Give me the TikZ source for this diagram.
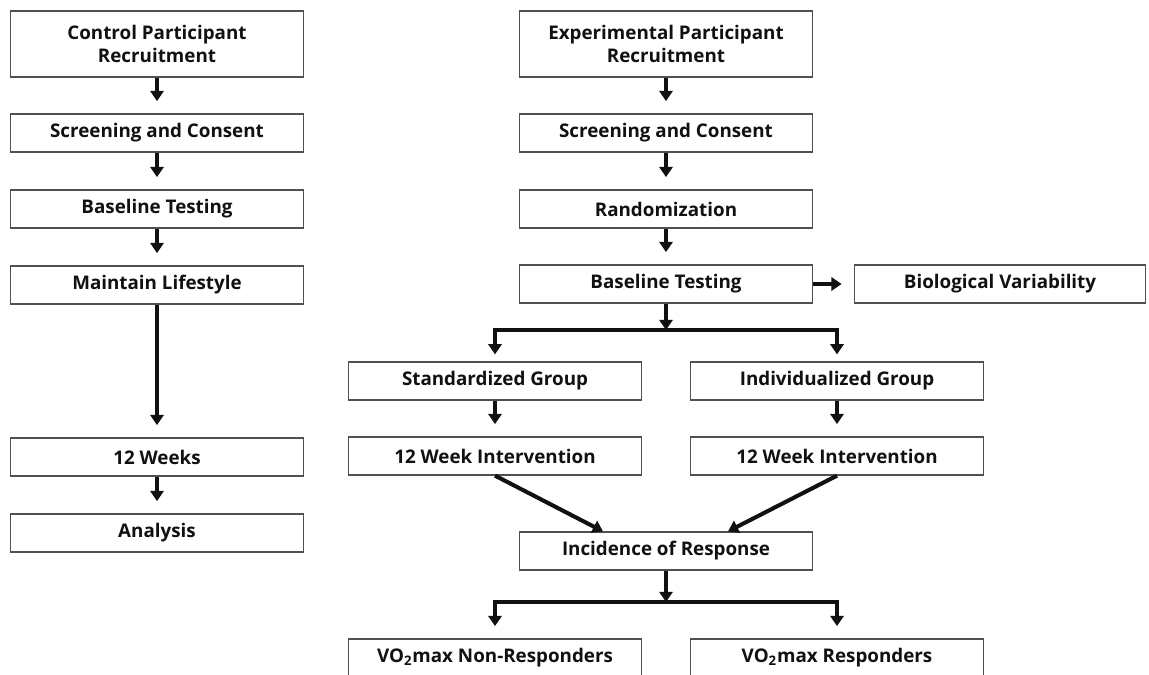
\documentclass[tikz,border=0pt]{standalone}
\usepackage{fontspec}
\setmainfont{Open Sans}
\usetikzlibrary{arrows.meta,calc,positioning}
\definecolor{ink}{HTML}{111111}
\definecolor{edge}{HTML}{505050}
\tikzset{
  stepbox/.style={draw=edge,line width=0.7pt,fill=white,minimum width=5.86cm,minimum height=0.76cm,
    inner sep=0pt,align=center,text=ink,font=\bfseries\fontsize{10.7}{13.5}\selectfont},
  flow/.style={draw=ink,line width=2.3pt,-{Triangle[width=7.5pt,length=5.8pt]},shorten >=7pt}
}

\begin{document}
\begin{tikzpicture}[x=0.02cm,y=-0.02cm]
  \useasboundingbox (0,0) rectangle (1149,674);

  % control arm
  \node[stepbox,minimum height=1.32cm] (cRecruit) at (157,44) {Control Participant\\Recruitment};
  \foreach \name/\yy/\txt in {
    cScreen/133/{Screening and Consent},
    cBase/209/{Baseline Testing},
    cLife/285/{Maintain Lifestyle},
    cWeeks/457/{12 Weeks},
    cAnalysis/533/{Analysis}} {
    \node[stepbox] (\name) at (157,\yy) {\txt};
  }
  \foreach \a/\b in {cRecruit/cScreen,cScreen/cBase,cBase/cLife,cLife/cWeeks,cWeeks/cAnalysis}
    \draw[flow] (\a) -- (\b);

  % experimental arm
  \node[stepbox,minimum height=1.32cm] (eRecruit) at (666,44) {Experimental Participant\\Recruitment};
  \foreach \name/\yy/\txt in {
    eScreen/133/{Screening and Consent},
    eRand/209/{Randomization},
    eBase/284/{Baseline Testing},
    incidence/551/{Incidence of Response}} {
    \node[stepbox] (\name) at (666,\yy) {\txt};
  }
  \node[stepbox,minimum width=5.82cm] (bioVar) at (1000,284) {Biological Variability};
  \node[stepbox] (stdGroup) at (495,381) {Standardized Group};
  \node[stepbox] (indGroup) at (837,381) {Individualized Group};
  \node[stepbox] (stdWeeks) at (495,456) {12 Week Intervention};
  \node[stepbox] (indWeeks) at (837,456) {12 Week Intervention};
  \node[stepbox] (nonResp) at (495,658) {VO\textsubscript{2}max Non-Responders};
  \node[stepbox] (resp) at (837,658) {VO\textsubscript{2}max Responders};

  \foreach \a/\b in {eRecruit/eScreen,eScreen/eRand,eRand/eBase,eBase/bioVar,stdGroup/stdWeeks,indGroup/indWeeks}
    \draw[flow] (\a) -- (\b);

  % split after baseline
  \coordinate (groupSplit) at (666,330);
  \draw[flow,shorten >=0pt] (eBase) -- (groupSplit);
  \draw[flow,shorten >=4pt] (groupSplit) -| (stdGroup);
  \draw[flow,shorten >=4pt] (groupSplit) -| (indGroup);

  % both groups feed the response count
  \draw[flow,shorten >=0pt] (stdWeeks.south) -- ($(incidence.north)+(-63,0)$);
  \draw[flow,shorten >=0pt] (indWeeks.south) -- ($(incidence.north)+(62,0)$);

  % split after incidence
  \coordinate (respSplit) at (666,602);
  \draw[flow,shorten >=0pt] (incidence) -- (respSplit);
  \draw[flow] (respSplit) -| (nonResp);
  \draw[flow] (respSplit) -| (resp);
\end{tikzpicture}
\end{document}
